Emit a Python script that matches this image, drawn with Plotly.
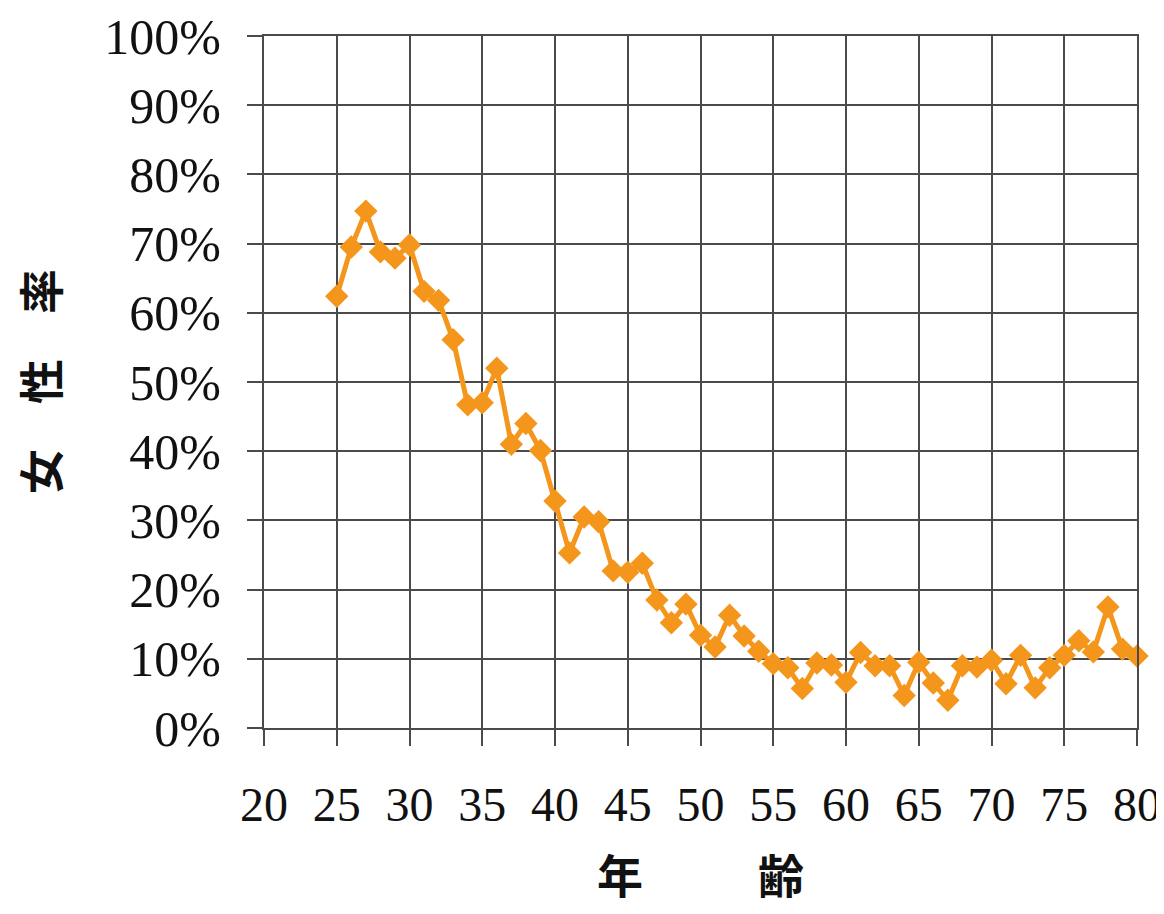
import plotly.graph_objects as go

ages = list(range(25, 81))
female_rate = [
    62.4, 69.5, 74.7, 68.8, 67.9, 69.8, 63.1, 61.8, 56.1, 46.7,
    47.0, 52.0, 41.0, 44.0, 40.1, 32.8, 25.3, 30.5, 29.8, 22.7,
    22.5, 23.8, 18.5, 15.2, 17.9, 13.4, 11.7, 16.3, 13.3, 11.1,
    9.3, 8.7, 5.7, 9.4, 9.1, 6.6, 10.9, 9.0, 9.0, 4.7,
    9.5, 6.5, 4.0, 9.0, 8.8, 9.8, 6.4, 10.5, 5.8, 8.7,
    10.5, 12.6, 11.0, 17.5, 11.4, 10.4,
]
x_ticks = list(range(20, 81, 5))
y_ticks = list(range(0, 101, 10))
x_title = "年　　\u2002齢"
y_title = "女　性　率"

line_color = "#F5961C"
grid_color = "#4a4a4a"

fig = go.Figure()
fig.add_trace(go.Scatter(
    x=ages, y=female_rate, mode="lines+markers",
    line=dict(color=line_color, width=5),
    marker=dict(symbol="diamond", size=18, color=line_color),
    cliponaxis=False,
    showlegend=False,
))

tick_font = dict(family="Liberation Serif, Times New Roman, serif", size=50, color="#111")
title_font = dict(family="Noto Sans CJK JP", size=46, color="#111", weight="bold")

fig.update_layout(
    width=1156, height=898,
    margin=dict(l=256, r=27, t=28, b=178),
    paper_bgcolor="white", plot_bgcolor="white",
    xaxis=dict(
        range=[20, 80], tickvals=x_ticks, ticktext=[str(v) for v in x_ticks],
        showgrid=True, gridcolor=grid_color, gridwidth=2,
        showline=True, linecolor=grid_color, linewidth=2, mirror=True,
        ticks="outside", ticklen=16, tickwidth=2, tickcolor=grid_color,
        tickfont=dict(tick_font, size=48), zeroline=False, automargin=False,
        ticklabeloverflow="allow", ticklabelstandoff=17,
        title=dict(text=x_title, font=title_font, standoff=38),
    ),
    yaxis=dict(
        range=[0, 100], tickvals=y_ticks, ticktext=[f"{v}%" for v in y_ticks],
        showgrid=True, gridcolor=grid_color, gridwidth=2,
        showline=True, linecolor=grid_color, linewidth=2, mirror=True,
        ticks="outside", ticklen=15, tickwidth=2, tickcolor=grid_color,
        tickfont=tick_font, zeroline=False, automargin=False,
        ticklabeloverflow="allow", ticklabelstandoff=16,
    ),
    annotations=[
        dict(text=y_title, xref="paper", yref="paper", x=0, y=0.5,
             xanchor="center", yanchor="middle", xshift=-225, textangle=-90,
             showarrow=False, font=dict(title_font, size=45)),
    ],
)

fig.write_html("out.html")
